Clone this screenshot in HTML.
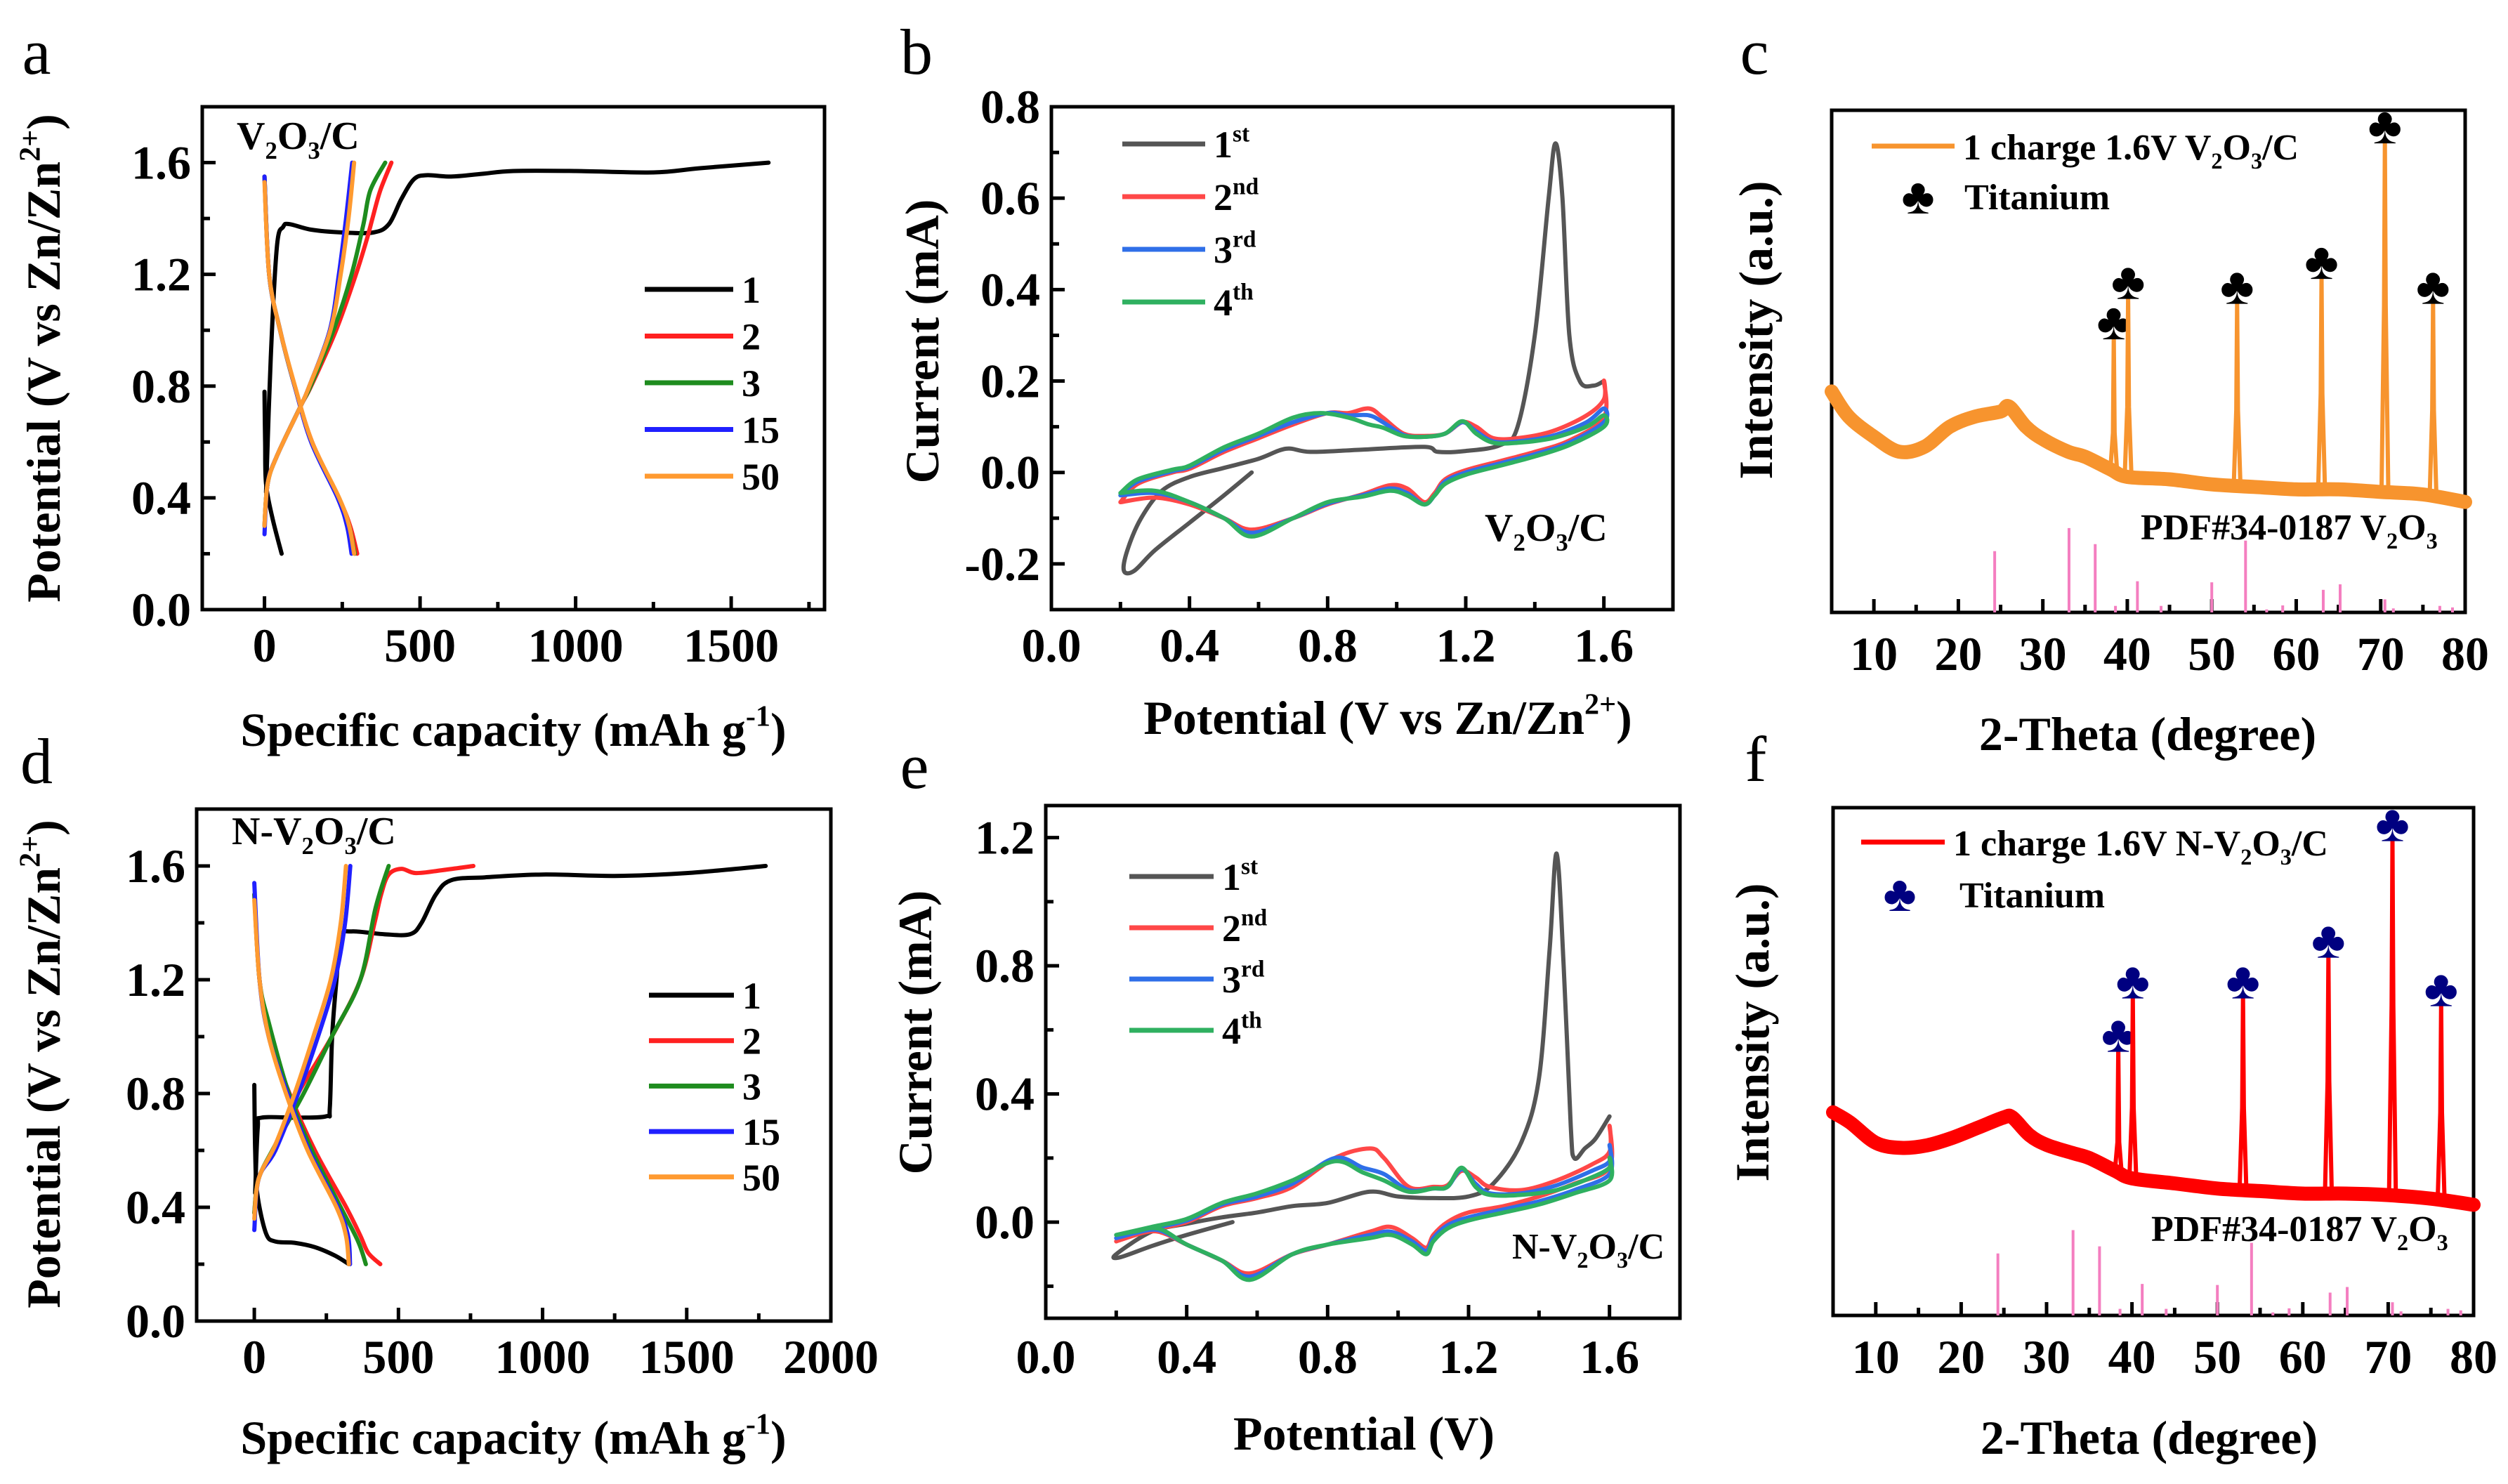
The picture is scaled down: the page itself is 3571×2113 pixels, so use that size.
<!DOCTYPE html>
<html><head><meta charset="utf-8"><style>
html,body{margin:0;padding:0;background:#fff;}
svg{display:block;}
text{font-family:"Liberation Serif",serif;}
</style></head>
<body>
<svg id="fig" width="3571" height="2113" viewBox="0 0 3571 2113" xmlns="http://www.w3.org/2000/svg"></svg>
<script>
// ===== Panel a (GCD V2O3/C) data: [capacity, potential]
const aCyc1Dis = [[0,0.78],[2,0.6],[5,0.45],[25,0.33],[55,0.2]];
const aCyc1Chg = [[5,0.42],[20,0.9],[40,1.3],[60,1.37],[80,1.38],[150,1.36],[250,1.35],[350,1.35],[400,1.38],[440,1.47],[480,1.54],[520,1.555],[600,1.55],[700,1.56],[800,1.57],[1000,1.57],[1250,1.565],[1400,1.58],[1620,1.6]];
const aCyc2Dis = [[0,1.55],[15,1.2],[50,1.0],[97,0.8],[153,0.6],[239,0.4],[275,0.3],[298,0.2]];
const aCyc2Chg = [[0,0.3],[10,0.45],[40,0.55],[117,0.73],[150,0.8],[230,1.0],[294,1.2],[330,1.33],[347,1.4],[372,1.5],[408,1.6]];
const aCyc3Dis = [[0,1.55],[15,1.2],[50,1.0],[97,0.8],[152,0.6],[238,0.4],[272,0.3],[290,0.2]];
const aCyc3Chg = [[0,0.3],[10,0.45],[40,0.55],[117,0.73],[148,0.8],[222,1.0],[280,1.2],[318,1.38],[340,1.5],[388,1.6]];
const aCyc15Dis = [[0,1.55],[15,1.2],[50,1.0],[97,0.8],[150,0.6],[235,0.4],[265,0.3],[280,0.2]];
const aCyc15Chg = [[0,0.27],[10,0.45],[40,0.55],[117,0.73],[144,0.8],[210,1.0],[239,1.2],[262,1.4],[282,1.6]];
const aCyc50Dis = [[0,1.53],[15,1.2],[50,1.0],[98,0.8],[153,0.6],[240,0.4],[272,0.3],[288,0.2]];
const aCyc50Chg = [[0,0.3],[10,0.45],[40,0.55],[117,0.73],[144,0.8],[212,1.0],[245,1.2],[270,1.4],[288,1.6]];
const aXTicks = [0,500,1000,1500];
const aYTicks = [0.0,0.4,0.8,1.2,1.6];

// ===== Panel d (GCD N-V2O3/C)
const dCyc1Dis = [[0,0.83],[3,0.6],[10,0.45],[40,0.31],[72,0.28],[140,0.275],[210,0.26],[280,0.23],[328,0.2]];
const dCyc1Chg = [[3,0.45],[12,0.68],[25,0.715],[150,0.715],[250,0.72],[262,0.75],[270,1.0],[285,1.2],[300,1.35],[338,1.37],[450,1.36],[540,1.36],[580,1.4],[630,1.5],[683,1.55],[800,1.56],[1000,1.57],[1250,1.565],[1500,1.575],[1774,1.6]];
const dCyc2Dis = [[0,1.5],[18,1.2],[53,1.0],[122,0.8],[210,0.6],[319,0.4],[368,0.3],[395,0.24],[437,0.2]];
const dCyc2Chg = [[0,0.38],[15,0.5],[73,0.62],[152,0.8],[269,1.0],[368,1.2],[417,1.4],[440,1.5],[466,1.57],[510,1.59],[560,1.575],[650,1.585],[760,1.6]];
const dCyc3Dis = [[0,1.5],[18,1.2],[50,1.05],[120,0.8],[200,0.6],[300,0.4],[360,0.28],[387,0.2]];
const dCyc3Chg = [[0,0.38],[15,0.5],[73,0.62],[171,0.8],[269,1.0],[368,1.2],[420,1.45],[466,1.6]];
const dCyc15Dis = [[0,1.54],[18,1.2],[50,1.0],[115,0.8],[190,0.6],[290,0.4],[325,0.3],[332,0.2]];
const dCyc15Chg = [[0,0.32],[15,0.5],[73,0.6],[152,0.8],[221,1.0],[280,1.2],[315,1.4],[333,1.6]];
const dCyc50Dis = [[0,1.48],[18,1.2],[50,1.0],[110,0.8],[185,0.6],[285,0.4],[318,0.3],[328,0.2]];
const dCyc50Chg = [[0,0.36],[15,0.5],[73,0.62],[140,0.8],[205,1.0],[265,1.2],[300,1.4],[318,1.6]];
const dXTicks = [0,500,1000,1500,2000];
const dYTicks = [0.0,0.4,0.8,1.2,1.6];

// ===== Panel b (CV V2O3/C): [potential, current]
const bCyc1 = [[0.58,0.0],[0.5,-0.05],[0.4,-0.11],[0.3,-0.17],[0.24,-0.215],[0.21,-0.215],[0.22,-0.17],[0.26,-0.1],[0.32,-0.04],[0.4,-0.01],[0.5,0.01],[0.6,0.03],[0.68,0.052],[0.75,0.045],[0.9,0.05],[1.08,0.056],[1.12,0.045],[1.2,0.047],[1.3,0.06],[1.35,0.1],[1.4,0.3],[1.44,0.6],[1.46,0.72],[1.48,0.6],[1.5,0.3],[1.53,0.2],[1.57,0.19],[1.6,0.2]];
const bCyc2 = [[0.2,-0.065],[0.25,-0.025],[0.35,0.0],[0.4,0.008],[0.5,0.045],[0.6,0.075],[0.7,0.105],[0.8,0.13],[0.86,0.13],[0.92,0.14],[0.96,0.12],[1.02,0.085],[1.08,0.08],[1.14,0.085],[1.19,0.11],[1.23,0.1],[1.28,0.075],[1.35,0.075],[1.45,0.09],[1.55,0.125],[1.6,0.16],[1.6,0.2],[1.6,0.12],[1.5,0.07],[1.4,0.045],[1.3,0.025],[1.2,0.005],[1.14,-0.015],[1.11,-0.045],[1.08,-0.065],[1.03,-0.035],[0.98,-0.028],[0.9,-0.048],[0.8,-0.07],[0.7,-0.1],[0.58,-0.125],[0.5,-0.1],[0.4,-0.07],[0.3,-0.055],[0.2,-0.065]];
const bCyc3 = [[0.2,-0.05],[0.25,-0.02],[0.35,0.003],[0.4,0.012],[0.5,0.05],[0.6,0.08],[0.7,0.11],[0.8,0.13],[0.86,0.125],[0.92,0.125],[0.96,0.11],[1.02,0.082],[1.08,0.078],[1.14,0.085],[1.19,0.11],[1.23,0.09],[1.28,0.068],[1.35,0.068],[1.45,0.08],[1.55,0.11],[1.6,0.14],[1.6,0.11],[1.5,0.065],[1.4,0.04],[1.3,0.02],[1.2,0.0],[1.14,-0.02],[1.11,-0.05],[1.08,-0.07],[1.03,-0.045],[0.98,-0.035],[0.9,-0.05],[0.8,-0.068],[0.7,-0.1],[0.58,-0.132],[0.5,-0.1],[0.4,-0.065],[0.3,-0.045],[0.2,-0.05]];
const bCyc4 = [[0.2,-0.045],[0.25,-0.015],[0.35,0.006],[0.4,0.015],[0.5,0.055],[0.6,0.085],[0.7,0.12],[0.78,0.13],[0.86,0.12],[0.92,0.105],[0.96,0.098],[1.02,0.08],[1.08,0.078],[1.14,0.085],[1.19,0.112],[1.23,0.085],[1.28,0.065],[1.35,0.065],[1.45,0.075],[1.55,0.1],[1.6,0.125],[1.6,0.1],[1.5,0.06],[1.4,0.035],[1.3,0.015],[1.2,-0.005],[1.14,-0.025],[1.11,-0.05],[1.08,-0.07],[1.03,-0.05],[0.98,-0.04],[0.9,-0.053],[0.8,-0.065],[0.7,-0.1],[0.58,-0.14],[0.5,-0.1],[0.4,-0.065],[0.3,-0.04],[0.2,-0.045]];
const bXTicks = [0.0,0.4,0.8,1.2,1.6];
const bYTicks = [-0.2,0.0,0.2,0.4,0.6,0.8];

// ===== Panel e (CV N-V2O3/C)
const eCyc1 = [[0.53,0.0],[0.4,-0.04],[0.3,-0.075],[0.21,-0.11],[0.2,-0.1],[0.3,-0.03],[0.4,-0.005],[0.5,0.015],[0.6,0.03],[0.7,0.05],[0.8,0.06],[0.92,0.095],[1.0,0.08],[1.1,0.075],[1.2,0.08],[1.27,0.12],[1.35,0.25],[1.4,0.45],[1.43,0.85],[1.45,1.15],[1.47,0.8],[1.49,0.3],[1.5,0.2],[1.53,0.23],[1.56,0.26],[1.6,0.33]];
const eCyc2 = [[0.2,-0.06],[0.3,-0.025],[0.4,0.0],[0.5,0.05],[0.6,0.075],[0.7,0.11],[0.82,0.2],[0.92,0.23],[0.96,0.2],[1.03,0.11],[1.1,0.11],[1.14,0.115],[1.18,0.16],[1.22,0.14],[1.26,0.11],[1.35,0.1],[1.45,0.13],[1.55,0.18],[1.6,0.22],[1.6,0.3],[1.6,0.17],[1.5,0.12],[1.4,0.08],[1.3,0.05],[1.2,0.03],[1.14,0.0],[1.1,-0.04],[1.08,-0.08],[1.04,-0.05],[0.98,-0.015],[0.92,-0.03],[0.8,-0.07],[0.7,-0.1],[0.58,-0.16],[0.5,-0.12],[0.4,-0.07],[0.32,-0.03],[0.25,-0.04],[0.2,-0.06]];
const eCyc3 = [[0.2,-0.05],[0.3,-0.02],[0.4,0.005],[0.5,0.055],[0.6,0.08],[0.7,0.12],[0.82,0.2],[0.9,0.17],[0.96,0.15],[1.03,0.1],[1.1,0.105],[1.14,0.11],[1.18,0.165],[1.22,0.12],[1.26,0.09],[1.35,0.09],[1.45,0.115],[1.55,0.16],[1.6,0.19],[1.6,0.24],[1.6,0.15],[1.5,0.1],[1.4,0.065],[1.3,0.04],[1.2,0.015],[1.14,-0.01],[1.1,-0.05],[1.08,-0.09],[1.04,-0.06],[0.98,-0.03],[0.92,-0.04],[0.8,-0.07],[0.7,-0.1],[0.58,-0.17],[0.5,-0.12],[0.4,-0.07],[0.32,-0.025],[0.25,-0.035],[0.2,-0.05]];
const eCyc4 = [[0.2,-0.04],[0.3,-0.015],[0.4,0.01],[0.5,0.06],[0.6,0.09],[0.7,0.13],[0.82,0.19],[0.9,0.155],[0.96,0.13],[1.03,0.095],[1.1,0.105],[1.14,0.11],[1.18,0.17],[1.22,0.11],[1.26,0.085],[1.35,0.085],[1.45,0.1],[1.55,0.14],[1.6,0.17],[1.6,0.2],[1.6,0.13],[1.5,0.09],[1.4,0.055],[1.3,0.03],[1.2,0.005],[1.14,-0.02],[1.1,-0.06],[1.08,-0.1],[1.04,-0.07],[0.98,-0.04],[0.92,-0.05],[0.8,-0.07],[0.7,-0.1],[0.58,-0.18],[0.5,-0.12],[0.4,-0.07],[0.32,-0.02],[0.25,-0.03],[0.2,-0.04]];
const eXTicks = [0.0,0.4,0.8,1.2,1.6];
const eYTicks = [0.0,0.4,0.8,1.2];

// ===== Panel c / f (XRD) : background [2theta, intensity], peaks, reference lines
const cBgX = [5,7,10,13,16,19,22,25,26,28,30,33,35,38,40,45,50,55,60,65,70,75,80];
const cBgY = [44,39,35,32,33,37,39,40,41,37,34.5,32,31,28.5,27,26.5,25.5,25,24.5,24.5,24,23.5,22];
const cPeakX = [38.4,40.1,53.0,63.0,70.5,76.2];
const cPeakY = [55,63,62,67,94,62];
const fBgX = [5,7,10,13,16,19,22,25,26,28,30,33,35,38,40,45,50,55,60,65,70,75,80];
const fBgY = [40,38,34,33,33.5,35,37,39,39,35.5,33.6,32,31,28.5,27,26,25,24.5,24,24,23.7,23,21.8];
const fPeakX = [38.4,40.1,53.0,63.0,70.5,76.2];
const fPeakY = [52.5,63,63,71,94,61.5];
const refX = [24.3,33.1,36.2,38.6,41.2,44.0,50.0,54.0,56.5,58.4,63.2,65.2,70.5,71.5,77.0,78.5];
const refH = [12.2,16.8,13.6,1.3,6.2,1.3,6.0,14.3,0.6,1.4,4.5,5.6,2.6,0.8,1.3,1.0];
const xrdXTicks = [10,20,30,40,50,60,70,80];

// ================= drawing helpers =================
const NS = 'http://www.w3.org/2000/svg';
const svg = document.getElementById('fig');
function mk(tag, attrs, parent){
  const el = document.createElementNS(NS, tag);
  for (const k in attrs) el.setAttribute(k, attrs[k]);
  (parent||svg).appendChild(el);
  return el;
}
function makeAxes(f){
  f.sx = v => f.x0 + (v - f.xmin) / (f.xmax - f.xmin) * (f.x1 - f.x0);
  f.sy = v => f.y1 - (v - f.ymin) / (f.ymax - f.ymin) * (f.y1 - f.y0);
  return f;
}
function frame(f, name){
  const g = mk('g', {});
  
  
  const r = mk('rect', {x:f.x0, y:f.y0, width:f.x1-f.x0, height:f.y1-f.y0, fill:'none', stroke:'#000', 'stroke-width':5}, g);
  
  
  return g;
}
function xTicks(f, g, ticks, minorStep, labelY, fmt, name){
  const lo = Math.ceil(f.xmin/minorStep - 1e-9), hi = Math.floor(f.xmax/minorStep + 1e-9);
  for (let i = lo; i <= hi; i++){
    const v = i*minorStep;
    const major = ticks.some(t => Math.abs(t - v) < 1e-6);
    const x = f.sx(v);
    if (x <= f.x0+3 || x >= f.x1-3) continue;
    mk('line', {x1:x, x2:x, y1:f.y1, y2:f.y1 - (major?19:11), stroke:'#000', 'stroke-width':5}, g);
  }
  ticks.forEach(v => {
    const t = mk('text', {x:f.sx(v), y:labelY, 'font-size':68, 'font-weight':'bold', 'text-anchor':'middle'}, g);
    t.textContent = fmt(v);
    
    
  });
}
function yTicks(f, g, ticks, minorStep, fmt, name){
  const lo = Math.ceil(f.ymin/minorStep - 1e-9), hi = Math.floor(f.ymax/minorStep + 1e-9);
  for (let i = lo; i <= hi; i++){
    const v = i*minorStep;
    const major = ticks.some(t => Math.abs(t - v) < 1e-6);
    const y = f.sy(v);
    if (y <= f.y0+3 || y >= f.y1-3) continue;
    mk('line', {x1:f.x0, x2:f.x0 + (major?19:11), y1:y, y2:y, stroke:'#000', 'stroke-width':5}, g);
  }
  ticks.forEach(v => {
    const t = mk('text', {x:f.x0 - 16, y:f.sy(v) + 23, 'font-size':68, 'font-weight':'bold', 'text-anchor':'end'}, g);
    t.textContent = fmt(v);
    
    
  });
}
function pathD(f, pts, smooth){
  const P = pts.map(p => [f.sx(p[0]), f.sy(p[1])]);
  if (!smooth || P.length < 3) return P.map((p,i) => (i?'L':'M') + p[0].toFixed(1) + ' ' + p[1].toFixed(1)).join(' ');
  let d = 'M' + P[0][0].toFixed(1) + ' ' + P[0][1].toFixed(1);
  for (let i = 0; i < P.length-1; i++){
    const p0 = P[Math.max(0,i-1)], p1 = P[i], p2 = P[i+1], p3 = P[Math.min(P.length-1,i+2)];
    const c1 = [p1[0] + (p2[0]-p0[0])/6, p1[1] + (p2[1]-p0[1])/6];
    const c2 = [p2[0] - (p3[0]-p1[0])/6, p2[1] - (p3[1]-p1[1])/6];
    d += ' C' + c1[0].toFixed(1) + ' ' + c1[1].toFixed(1) + ' ' + c2[0].toFixed(1) + ' ' + c2[1].toFixed(1) + ' ' + p2[0].toFixed(1) + ' ' + p2[1].toFixed(1);
  }
  return d;
}
function line(f, pts, color, width, name, sharp){
  const p = mk('path', {d:pathD(f, pts, !sharp), fill:'none', stroke:color, 'stroke-width':width, 'stroke-linejoin':'round', 'stroke-linecap':'round'});
  
  
  return p;
}
function rich(x, y, parts, size, anchor, name, rotate){
  const attrs = {x:x, y:y, 'font-size':size, 'font-weight':'bold', 'text-anchor':anchor||'start'};
  if (rotate) attrs.transform = 'rotate(-90 ' + x + ' ' + y + ')';
  const t = mk('text', attrs);
  
  
  let shift = 0;
  parts.forEach(pp => {
    const ts = mk('tspan', {}, t);
    let target = 0, fs = size;
    if (pp[1] === 'sub'){ target = size*0.25; fs = size*0.62; }
    if (pp[1] === 'sup'){ target = -size*0.42; fs = size*0.62; }
    ts.setAttribute('dy', (target - shift).toFixed(1));
    ts.setAttribute('font-size', fs);
    shift = target;
    ts.textContent = pp[0];
  });
  return t;
}
function panelLetter(x, y, s, name){
  const t = mk('text', {x:x, y:y, 'font-size':92, 'text-anchor':'middle'});
  t.textContent = s;
  
  
}
function legendEntry(x1, x2, y, color, parts, name, size){
  const g = mk('g', {});
  
  
  mk('line', {x1:x1, x2:x2, y1:y, y2:y, stroke:color, 'stroke-width':7}, g);
  const t = rich(x2 + 12, y + 19, parts, size||54, 'start', name + '-label');
  g.appendChild(t);
}
const fmt1 = v => v.toFixed(1);
const fmt0 = v => String(v);

// ================= Panel a =================
const A = makeAxes({x0:288, x1:1174, y0:152, y1:868, xmin:-200, xmax:1800, ymin:0, ymax:1.8});
const gA = frame(A, 'panel-a');
xTicks(A, gA, aXTicks, 250, 942, fmt0, 'panel-a');
yTicks(A, gA, aYTicks, 0.2, fmt1, 'panel-a');
[[aCyc1Dis,aCyc1Chg,'#000','1'],[aCyc2Dis,aCyc2Chg,'#ff2020','2'],[aCyc3Dis,aCyc3Chg,'#1e8c1e','3'],[aCyc15Dis,aCyc15Chg,'#2020ff','15'],[aCyc50Dis,aCyc50Chg,'#ff9a30','50']].forEach(s => {
  line(A, s[0], s[2], 6, 'panel-a-cycle-' + s[3] + '-discharge');
  line(A, s[1], s[2], 6, 'panel-a-cycle-' + s[3] + '-charge');
});
[['1','#000'],['2','#ff2020'],['3','#1e8c1e'],['15','#2020ff'],['50','#ff9a30']].forEach((s,i) => {
  legendEntry(918, 1044, 412 + i*66.5, s[1], [[s[0],'n']], 'panel-a-legend-' + s[0]);
});
rich(337, 212, [['V','n'],['2','sub'],['O','n'],['3','sub'],['/C','n']], 56, 'start', 'panel-a-sample-label');
rich(731, 1062, [['Specific capacity (mAh g','n'],['-1','sup'],[')','n']], 68, 'middle', 'panel-a-x-axis-title');
rich(85, 510, [['Potential (V vs Zn/Zn','n'],['2+','sup'],[')','n']], 68, 'middle', 'panel-a-y-axis-title', true);
panelLetter(52, 105, 'a', 'panel-a-letter');

// ================= Panel d =================
const D = makeAxes({x0:280, x1:1183, y0:1152, y1:1881, xmin:-200, xmax:2000, ymin:0, ymax:1.8});
const gD = frame(D, 'panel-d');
xTicks(D, gD, dXTicks, 250, 1955, fmt0, 'panel-d');
yTicks(D, gD, dYTicks, 0.2, fmt1, 'panel-d');
[[dCyc1Dis,dCyc1Chg,'#000','1'],[dCyc2Dis,dCyc2Chg,'#ff2020','2'],[dCyc3Dis,dCyc3Chg,'#1e8c1e','3'],[dCyc15Dis,dCyc15Chg,'#2020ff','15'],[dCyc50Dis,dCyc50Chg,'#ff9a30','50']].forEach(s => {
  line(D, s[0], s[2], 6, 'panel-d-cycle-' + s[3] + '-discharge');
  line(D, s[1], s[2], 6, 'panel-d-cycle-' + s[3] + '-charge');
});
[['1','#000'],['2','#ff2020'],['3','#1e8c1e'],['15','#2020ff'],['50','#ff9a30']].forEach((s,i) => {
  legendEntry(924, 1045, 1417 + i*64.7, s[1], [[s[0],'n']], 'panel-d-legend-' + s[0]);
});
rich(330, 1202, [['N-V','n'],['2','sub'],['O','n'],['3','sub'],['/C','n']], 56, 'start', 'panel-d-sample-label');
rich(731, 2070, [['Specific capacity (mAh g','n'],['-1','sup'],[')','n']], 68, 'middle', 'panel-d-x-axis-title');
rich(85, 1515, [['Potential (V vs Zn/Zn','n'],['2+','sup'],[')','n']], 68, 'middle', 'panel-d-y-axis-title', true);
panelLetter(52, 1115, 'd', 'panel-d-letter');

// ================= Panel b =================
const B = makeAxes({x0:1497, x1:2382, y0:152, y1:868, xmin:0, xmax:1.8, ymin:-0.3, ymax:0.8});
const gB = frame(B, 'panel-b');
xTicks(B, gB, bXTicks, 0.2, 942, fmt1, 'panel-b');
yTicks(B, gB, bYTicks, 0.1, fmt1, 'panel-b');
line(B, bCyc1, '#555555', 6, 'panel-b-cycle-1');
line(B, bCyc2, '#ff4848', 6, 'panel-b-cycle-2');
line(B, bCyc3, '#2f6fe8', 6, 'panel-b-cycle-3');
line(B, bCyc4, '#2fb060', 6, 'panel-b-cycle-4');
[['1','st','#555555'],['2','nd','#ff4848'],['3','rd','#2f6fe8'],['4','th','#2fb060']].forEach((s,i) => {
  legendEntry(1598, 1716, 205 + i*75, s[2], [[s[0],'n'],[s[1],'sup']], 'panel-b-legend-' + s[0] + s[1]);
});
rich(2114, 770, [['V','n'],['2','sub'],['O','n'],['3','sub'],['/C','n']], 56, 'start', 'panel-b-sample-label');
rich(1976, 1045, [['Potential (V vs Zn/Zn','n'],['2+','sup'],[')','n']], 68, 'middle', 'panel-b-x-axis-title');
rich(1336, 486, [['Current (mA)','n']], 68, 'middle', 'panel-b-y-axis-title', true);
panelLetter(1305, 105, 'b', 'panel-b-letter');

// ================= Panel e =================
const E = makeAxes({x0:1489, x1:2392, y0:1147, y1:1877, xmin:0, xmax:1.8, ymin:-0.3, ymax:1.3});
const gE = frame(E, 'panel-e');
xTicks(E, gE, eXTicks, 0.2, 1955, fmt1, 'panel-e');
yTicks(E, gE, eYTicks, 0.2, fmt1, 'panel-e');
line(E, eCyc1, '#555555', 6, 'panel-e-cycle-1');
line(E, eCyc2, '#ff4848', 6, 'panel-e-cycle-2');
line(E, eCyc3, '#2f6fe8', 6, 'panel-e-cycle-3');
line(E, eCyc4, '#2fb060', 6, 'panel-e-cycle-4');
[['1','st','#555555'],['2','nd','#ff4848'],['3','rd','#2f6fe8'],['4','th','#2fb060']].forEach((s,i) => {
  legendEntry(1608, 1728, 1248 + i*73, s[2], [[s[0],'n'],[s[1],'sup']], 'panel-e-legend-' + s[0] + s[1]);
});
rich(2153, 1792, [['N-V','n'],['2','sub'],['O','n'],['3','sub'],['/C','n']], 52, 'start', 'panel-e-sample-label');
rich(1942, 2064, [['Potential (V)','n']], 68, 'middle', 'panel-e-x-axis-title');
rich(1326, 1470, [['Current (mA)','n']], 68, 'middle', 'panel-e-y-axis-title', true);
panelLetter(1302, 1122, 'e', 'panel-e-letter');

// ================= Panels c & f =================
function interp(xs, ys, v){
  for (let i = 0; i < xs.length-1; i++){
    if (v >= xs[i] && v <= xs[i+1]) return ys[i] + (ys[i+1]-ys[i]) * (v-xs[i])/(xs[i+1]-xs[i]);
  }
  return ys[ys.length-1];
}
function xrd(F, bgX, bgY, pkX, pkY, color, clubColor, name){
  const g = frame(F, name);
  xTicks(F, g, xrdXTicks, 5, F.y1 + 82, fmt0, name);
  refX.forEach((x, i) => {
    const l = mk('line', {x1:F.sx(x), x2:F.sx(x), y1:F.sy(0), y2:F.sy(refH[i]), stroke:'#f47ec0', 'stroke-width':4});
    
    
  });
  const bg = bgX.map((x,i) => [x, bgY[i]]);
  line(F, bg, color, 20, name + '-pattern-background');
  pkX.forEach((x, i) => {
    const b1 = interp(bgX, bgY, x-0.4), b2 = interp(bgX, bgY, x+0.4);
    line(F, [[x-0.4,b1],[x-0.1,pkY[i]*0.65],[x,pkY[i]],[x+0.1,pkY[i]*0.65],[x+0.4,b2]], color, 6, name + '-peak', true);
    const c = mk('text', {x:F.sx(x), y:F.sy(pkY[i]) + 4, 'font-size':74, 'text-anchor':'middle', fill:clubColor, 'font-family':'DejaVu Sans, sans-serif'});
    c.textContent = '\u2663';
    
    
  });
  return g;
}
const C = makeAxes({x0:2608, x1:3510, y0:157, y1:872, xmin:5, xmax:80, ymin:0, ymax:100});
xrd(C, cBgX, cBgY, cPeakX, cPeakY, '#f7942e', '#000', 'panel-c');
legendEntry(2665, 2783, 208, '#f7942e', [['1 charge 1.6V V','n'],['2','sub'],['O','n'],['3','sub'],['/C','n']], 'panel-c-legend-pattern', 52);
(function(){ const t = mk('text', {x:2731, y:304, 'font-size':72, 'text-anchor':'middle', fill:'#000', 'font-family':'DejaVu Sans, sans-serif'}); t.textContent='\u2663';
 
  })();
rich(2797, 298, [['Titanium','n']], 52, 'start', 'panel-c-legend-titanium');
rich(3048, 768, [['PDF#34-0187  V','n'],['2','sub'],['O','n'],['3','sub']], 52, 'start', 'panel-c-reference-label');
rich(3058, 1068, [['2-Theta (degree)','n']], 68, 'middle', 'panel-c-x-axis-title');
rich(2523, 470, [['Intensity (a.u.)','n']], 68, 'middle', 'panel-c-y-axis-title', true);
panelLetter(2498, 105, 'c', 'panel-c-letter');

const F6 = makeAxes({x0:2610, x1:3522, y0:1150, y1:1873, xmin:5, xmax:80, ymin:0, ymax:100});
xrd(F6, fBgX, fBgY, fPeakX, fPeakY, '#ff0000', '#000080', 'panel-f');
legendEntry(2650, 2769, 1199, '#ff0000', [['1 charge 1.6V N-V','n'],['2','sub'],['O','n'],['3','sub'],['/C','n']], 'panel-f-legend-pattern', 52);
(function(){ const t = mk('text', {x:2705, y:1297, 'font-size':72, 'text-anchor':'middle', fill:'#000080', 'font-family':'DejaVu Sans, sans-serif'}); t.textContent='\u2663';
 
  })();
rich(2790, 1292, [['Titanium','n']], 52, 'start', 'panel-f-legend-titanium');
rich(3063, 1767, [['PDF#34-0187  V','n'],['2','sub'],['O','n'],['3','sub']], 52, 'start', 'panel-f-reference-label');
rich(3060, 2070, [['2-Theta (degree)','n']], 68, 'middle', 'panel-f-x-axis-title');
rich(2518, 1470, [['Intensity (a.u.)','n']], 68, 'middle', 'panel-f-y-axis-title', true);
panelLetter(2500, 1112, 'f', 'panel-f-letter');
</script>
</body></html>
